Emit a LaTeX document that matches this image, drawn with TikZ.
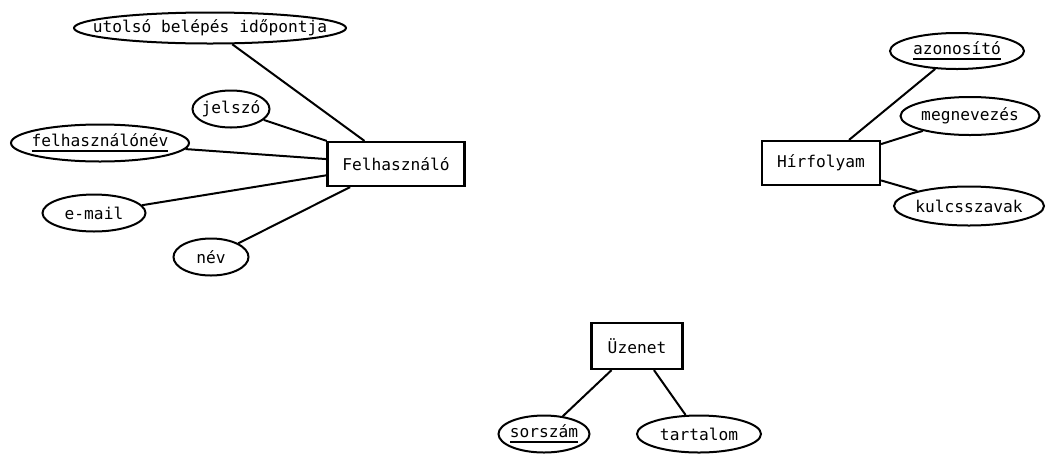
\documentclass[tikz,border=0pt]{standalone}
\usepackage{fontspec}
\setmonofont{DejaVu Sans Mono}
\usetikzlibrary{shapes.geometric}
\newcommand\ukey[1]{\setbox0\hbox{#1}\rlap{\raisebox{-5pt}{\rule{\wd0}{2pt}}}\box0}
\newcommand\zw[1]{\makebox[0pt]{#1}}
\tikzset{
  attr/.style={ellipse, draw, line width=2pt, inner sep=0pt, font=\ttfamily\fontsize{16.2}{18}\selectfont},
  ent/.style={rectangle, draw, line width=2.2pt, inner sep=0pt, font=\ttfamily\fontsize{16.2}{18}\selectfont},
  conn/.style={line width=2pt}
}
\begin{document}
\begin{tikzpicture}[x=1pt,y=-1pt]
\useasboundingbox (0,0) rectangle (1046,456);
% Felhasznalo
\node[ent, minimum width=137pt, minimum height=44pt] (F) at (396,164) {\zw{Felhasználó}};
\node[attr, minimum width=272pt, minimum height=31pt] (u) at (210,28) {\zw{utolsó belépés időpontja}};
\node[attr, minimum width=77pt, minimum height=37pt] (j) at (231,109) {\zw{jelszó}};
\node[attr, minimum width=178pt, minimum height=37pt] (fn) at (100,143) {\zw{\ukey{felhasználónév}}};
\node[attr, minimum width=103pt, minimum height=37pt] (em) at (94,213) {\zw{e-mail}};
\node[attr, minimum width=75pt, minimum height=37pt] (nv) at (211,257) {\zw{név}};
\draw[conn] (u) -- (F);
\draw[conn] (j) -- (F);
\draw[conn] (fn) -- (F);
\draw[conn] (em) -- (F);
\draw[conn] (nv) -- (F);
% Hirfolyam
\node[ent, minimum width=118pt, minimum height=44pt] (H) at (821,163) {\zw{Hírfolyam}};
\node[attr, minimum width=134pt, minimum height=36pt] (az) at (957,51) {\zw{\ukey{azonosító}}};
\node[attr, minimum width=139pt, minimum height=38pt] (mg) at (970,116) {\zw{megnevezés}};
\node[attr, minimum width=150pt, minimum height=39pt] (ku) at (969,206) {\zw{kulcsszavak}};
\draw[conn] (az) -- (H);
\draw[conn] (mg) -- (H);
\draw[conn] (ku) -- (H);
% Uzenet
\node[ent, minimum width=91pt, minimum height=46pt] (U) at (637,346) {\zw{Üzenet}};
\node[attr, minimum width=91pt, minimum height=37pt] (so) at (544,434) {\zw{\ukey{sorszám}}};
\node[attr, minimum width=124pt, minimum height=37pt] (ta) at (699,434) {\zw{tartalom}};
\draw[conn] (so) -- (U);
\draw[conn] (ta) -- (U);
\end{tikzpicture}
\end{document}
